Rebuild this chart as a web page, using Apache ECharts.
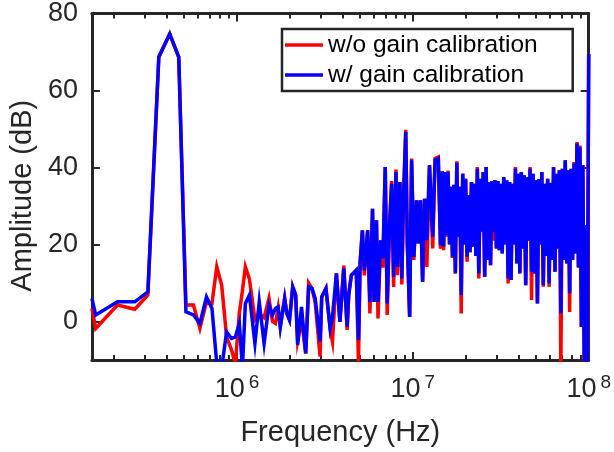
<!DOCTYPE html>
<html>
<head>
<meta charset="utf-8">
<style>
  html, body { margin: 0; padding: 0; background: #fff; }
  #chart { width: 614px; height: 452px; }
</style>
<script src="https://cdn.jsdelivr.net/npm/echarts@6/dist/echarts.min.js"></script>
</head>
<body>
<div id="chart"></div>
<script>
// Amplitude spectrum, with and without gain calibration
// frequencies in MHz, amplitudes in dB

const freqMHz = [
  0.1495, 0.157, 0.209, 0.262, 0.311, 0.359, 0.414, 0.466, 0.512, 0.565,
  0.615, 0.670, 0.720, 0.767, 0.818, 0.872, 0.930, 0.978, 1.030, 1.073,
  1.115, 1.176, 1.264, 1.337, 1.425, 1.519, 1.591, 1.653, 1.712, 1.762,
  1.865, 1.920, 1.988, 2.073, 2.154, 2.211, 2.326, 2.458, 2.554, 2.668,
  2.783, 2.966, 3.031, 3.204, 3.383, 3.490, 3.673, 3.846, 4.047, 4.228,
  4.315, 4.467, 4.762, 4.905, 5.012, 5.163, 5.296, 5.532, 5.696, 5.895,
  6.017, 6.206, 6.334, 6.557, 6.752, 6.963, 7.144, 7.356, 7.574, 7.772,
  8.013, 8.179, 8.434, 8.655, 8.835, 9.108, 9.297, 9.587, 9.835, 10.13,
  10.49, 10.70, 11.04, 11.36, 11.66, 12.01, 12.43, 12.97, 13.37, 13.95,
  14.36,
  14.68, 14.96, 15.25, 15.55, 15.85, 16.16, 16.47, 16.79, 17.11, 17.45,
  17.78, 18.13, 18.48, 18.84, 19.21, 19.58, 19.95, 20.34, 20.73, 21.13,
  21.54, 21.96, 22.39, 22.82, 23.26, 23.71, 24.17, 24.64, 25.12, 25.61,
  26.10, 26.61, 27.13, 27.65, 28.18, 28.73, 29.29, 29.85, 30.43, 31.02,
  31.62, 32.23, 32.86, 33.50, 34.15, 34.81, 35.48, 36.17, 36.87, 37.58,
  38.31, 39.05, 39.81, 40.58, 41.37, 42.17, 42.99, 43.82, 44.67, 45.53,
  46.42, 47.32, 48.23, 49.17, 50.12, 51.09, 52.08, 53.09, 54.12, 55.17,
  56.23, 57.32, 58.43, 59.57, 60.72, 61.90, 63.10, 64.32, 65.56, 66.83,
  68.13, 69.45, 70.79, 72.16, 73.56, 74.99, 76.44, 77.92, 79.43, 80.97,
  82.54, 84.14, 85.77, 87.43, 89.13, 90.85, 92.62, 94.41, 96.24, 98.10,
  100.0
]

const ampUncal = [
  3.4, -1.8, 4.3, 3.2, 6.9, 68.7, 74.7, 68.7, 4.3, 4.3,
  -1.8, 5.1, 4.7, 14.2, 9.4, -4.0, -7.4, -11, 2.1, 8,
  14.2, 11, 0.5, 2, 1, 6.0, 0, -0.5, 3.5, -1.4,
  6.0, 2.1, 0.4, 9.0, 6.9, -5, 0.5, -8.3, 10, 8.6,
  5.0, -9.1, 6.4, 8.6, -1.8, -5.2, 12.5, -0.1, 14.5, -2.2,
  6.9, 12.0, 13.3, -11, 15.3, 23.7, 12, 23.7, 2.1, 29.3,
  5.1, 26.3, 0.8, 21.1, 14, 40.1, 1.7, 24.5, 36.5, 9,
  39.5, 12, 36.2, 9.6, 31.5, 49.8, 20.3, 1.2, 42.3, 16,
  31.5, 20.3, 31.5, 10.3, 31.9, 14.2, 40.6, 19, 42.3, 42.7,
  18.9,
  39.0, 18.5, 38.8, 22, 39.2, 20, 35.0, 16.5, 35.5, 12.5,
  41.6, 22, 35.0, 2.1, 38.4, 20, 37.1, 15.5, 32.8, 18,
  36.2, 19.4, 35.8, 17, 40.1, 11.2, 37.1, 23.3, 38.8, 11.6,
  40.1, 16, 36.2, 14.6, 36.5, 21, 36.7, 19, 36.5, 18.5,
  35.8, 17.7, 37.5, 20, 36.7, 9.9, 36.2, 10.8, 35.8, 20,
  40.1, 15.1, 38.4, 12.5, 38.8, 19, 38.0, 9.4, 37.5, 21,
  40.1, 5.6, 38.4, 12.5, 36.7, 4.7, 37, 20, 38.8, 9.0,
  35.8, 17, 37.1, 9, 36, 16, 40.1, 12.9, 38.4, 19,
  39.3, -12, 39.7, 16, 41.9, 15.1, 39.3, 2.5, 39.7, 16,
  41.4, 17.7, 46.6, 14, 45.7, -1.4, 40.6, -15, 25, -15,
  69.5
]

const ampCal = [
  6.0, 1.7, 5.1, 5.1, 7.7, 68.7, 74.7, 68.7, 2.5, 1.7,
  -0.5, 6.4, 3.4, -11, -12, -2.7, -4.4, -4.0, -0.5, -12,
  4.7, 6.9, -5.7, 5.1, -5.7, 4.3, 1.7, 3.4, 3.8, -1.4,
  6.0, 2.1, 0.4, 9.0, 6.9, -6.1, 3.8, -8.3, 9.0, 8.6,
  6.0, -5.2, 6.4, 8.6, -1.8, 1.2, 12.5, -0.1, 13.8, -1.4,
  6.9, 12.0, 13.3, -4.8, 15.3, 23.7, 13.3, 23.7, 5.1, 29.3,
  5.1, 26.3, 5.1, 21.1, 16.4, 40.1, 4.7, 24.5, 35.8, 11.6,
  38.8, 14.2, 36.2, 11.2, 31.5, 49.2, 20.3, 1.2, 41.9, 16.8,
  31.5, 20.3, 31.5, 10.3, 31.9, 21.1, 40.6, 22.0, 41.9, 42.3,
  19.8,
  39.0, 19.5, 38.8, 22.5, 38.8, 20, 35.0, 16.8, 35.5, 12.5,
  41.2, 22, 35.0, 6.9, 38.4, 20, 37.1, 16.8, 32.8, 18,
  36.2, 19.4, 35.8, 17, 39.7, 12.5, 37.1, 23.3, 38.8, 11.6,
  40.1, 16, 36.2, 14.6, 36.5, 23.3, 36.7, 19.0, 36.5, 18.5,
  35.8, 17.7, 37.5, 20, 36.7, 11.2, 36.2, 10.8, 35.8, 20,
  39.7, 15.1, 38.4, 12.5, 38.8, 19, 38.0, 9.4, 37.5, 21,
  39.7, 12.9, 38.4, 12.5, 36.7, 4.7, 37, 20, 38.8, 9.5,
  35.8, 17, 37.1, 9.9, 36, 16, 40.1, 12.9, 38.4, 19,
  39.3, 2.1, 39.7, 16, 41.9, 15.1, 39.3, 7.3, 39.7, 16,
  41, 17.7, 46.2, 14, 45.3, -1.4, 40.6, -15, 25, -15,
  69.5
]

const xMajorTicks = [1e6, 1e7, 1e8]
const xMinorTicks = [
  2e5, 3e5, 4e5, 5e5, 6e5, 7e5, 8e5, 9e5,
  2e6, 3e6, 4e6, 5e6, 6e6, 7e6, 8e6, 9e6,
  2e7, 3e7, 4e7, 5e7, 6e7, 7e7, 8e7, 9e7
]
const yTicks = [0, 20, 40, 60, 80]

const X_MIN = 1.495e5
const X_MAX = 1e8
const AXIS_COLOR = '#262626'
const FONT = '"Liberation Sans", Arial, Helvetica, sans-serif'

function pairs(vals) {
  return freqMHz.map((f, i) => [f * 1e6, vals[i]])
}

function supLabel(v) {
  const e = Math.round(Math.log10(v))
  return '{b|10}{s|' + e + '}'
}

function xAxisBase(position, major) {
  return {
    type: 'log',
    logBase: 10,
    min: X_MIN,
    max: X_MAX,
    position,
    axisLine: { show: major, onZero: false, lineStyle: { color: AXIS_COLOR, width: 3 } },
    axisTick: {
      show: true,
      inside: true,
      length: major ? 8 : 5,
      customValues: major ? xMajorTicks : xMinorTicks,
      lineStyle: { color: AXIS_COLOR, width: 2 }
    },
    axisLabel: { show: false },
    splitLine: { show: false },
    minorTick: { show: false }
  }
}

function yAxisBase(position) {
  return {
    type: 'value',
    min: -10,
    max: 80,
    position,
    axisLine: { show: true, onZero: false, lineStyle: { color: AXIS_COLOR, width: 3 } },
    axisTick: { show: true, inside: true, length: 8, customValues: yTicks, lineStyle: { color: AXIS_COLOR, width: 2 } },
    axisLabel: { show: false },
    splitLine: { show: false }
  }
}

const chart = echarts.init(document.getElementById('chart'), null, { renderer: 'canvas' })

const xBottom = xAxisBase('bottom', true)
xBottom.axisLabel = {
  show: true,
  customValues: xMajorTicks,
  margin: 13,
  formatter: supLabel,
  rich: {
    b: { fontSize: 27, color: AXIS_COLOR, fontFamily: FONT },
    s: { fontSize: 19, color: AXIS_COLOR, fontFamily: FONT, padding: [0, 0, 15, 4] }
  }
}
xBottom.name = 'Frequency (Hz)'
xBottom.nameLocation = 'middle'
xBottom.nameGap = 58
xBottom.nameTextStyle = { fontSize: 29, color: AXIS_COLOR, fontFamily: FONT }

const yLeft = yAxisBase('left')
yLeft.axisLabel = { show: true, customValues: yTicks, margin: 14, fontSize: 27, color: AXIS_COLOR, fontFamily: FONT }
yLeft.name = 'Amplitude (dB)'
yLeft.nameLocation = 'middle'
yLeft.nameGap = 46
yLeft.nameTextStyle = { fontSize: 29, color: AXIS_COLOR, fontFamily: FONT, padding: [0, 18, 0, 0] }

chart.setOption({
  animation: false,
  textStyle: { fontFamily: FONT },
  grid: { left: 85, right: 21, top: 13, bottom: 92, containLabel: false },
  legend: {
    orient: 'vertical',
    left: 282,
    top: 29,
    padding: [3, 35, 3, 3],
    itemGap: 4,
    itemWidth: 38,
    itemHeight: 14,
    itemTextGap: 5,
    borderColor: AXIS_COLOR,
    borderWidth: 2.5,
    backgroundColor: '#fff',
    icon: 'path://M0,5.5 L38,5.5 L38,9 L0,9 Z',
    textStyle: { fontSize: 24.5, lineHeight: 26, color: '#000', fontFamily: FONT },
    data: ['w/o gain calibration', 'w/ gain calibration']
  },
  xAxis: [
    xBottom,
    xAxisBase('bottom', false),
    xAxisBase('top', true),
    xAxisBase('top', false)
  ],
  yAxis: [yLeft, yAxisBase('right')],
  series: [
    {
      name: 'w/o gain calibration',
      type: 'line',
      data: pairs(ampUncal),
      showSymbol: false,
      symbol: 'none',
      color: '#ff0000',
      lineStyle: { color: '#ff0000', width: 3.5, join: 'miter' },
      clip: true
    },
    {
      name: 'w/ gain calibration',
      type: 'line',
      data: pairs(ampCal),
      showSymbol: false,
      symbol: 'none',
      color: '#0000ff',
      lineStyle: { color: '#0000ff', width: 3.5, join: 'miter' },
      clip: true
    }
  ]
})
</script>
</body>
</html>
